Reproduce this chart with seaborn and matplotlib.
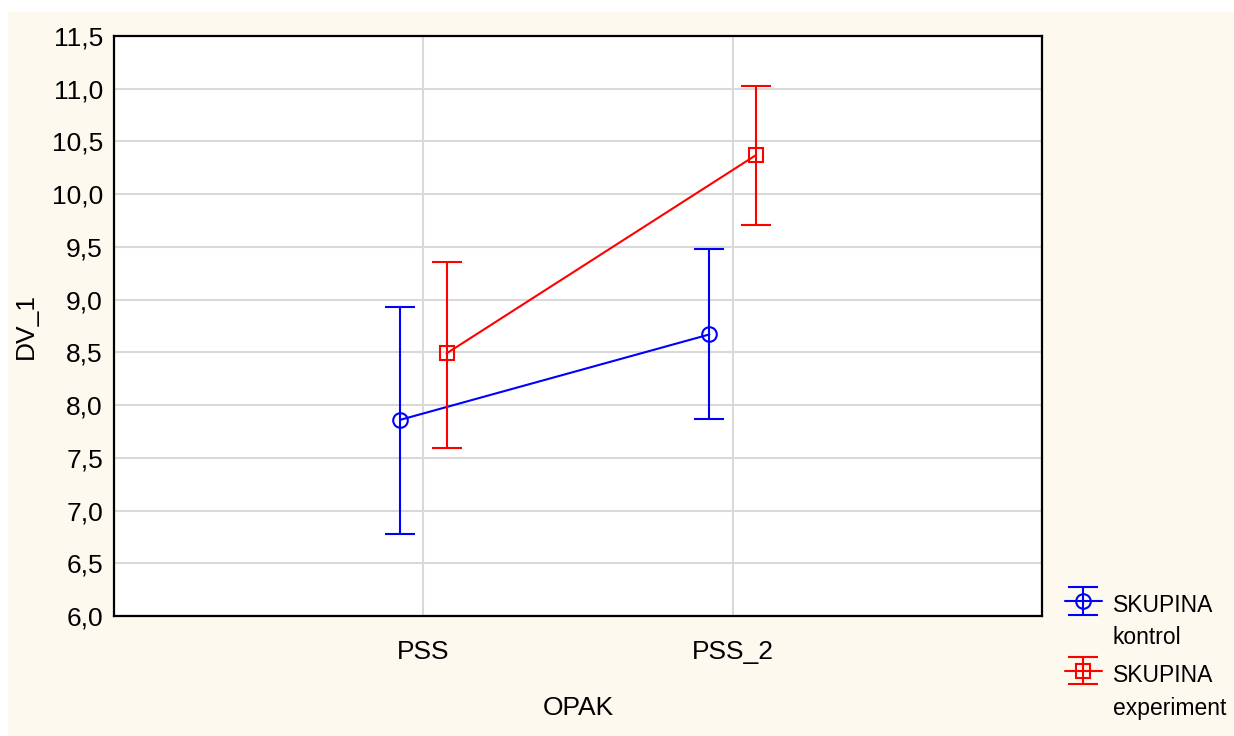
import pandas as pd
import matplotlib
matplotlib.use("Agg")
import matplotlib.pyplot as plt
import seaborn as sns
from matplotlib.container import ErrorbarContainer
from matplotlib.legend_handler import HandlerErrorbar
from matplotlib.patches import Rectangle

# values
OPAK = ["PSS", "PSS_2"]
GROUPS = ["kontrol", "experiment"]
kontrol_mean = [7.86, 8.67]
kontrol_low = [6.78, 7.87]
kontrol_high = [8.93, 9.48]
experiment_mean = [8.49, 10.37]
experiment_low = [7.59, 9.71]
experiment_high = [9.36, 11.03]

COLORS = ["#0000ff", "#ff0000"]
MARKERS = ["o", "s"]

df = pd.DataFrame({
    "OPAK": OPAK * 2,
    "SKUPINA": [GROUPS[0]] * 2 + [GROUPS[1]] * 2,
    "DV_1": kontrol_mean + experiment_mean,
    "low": kontrol_low + experiment_low,
    "high": kontrol_high + experiment_high,
})

sns.set_style("white")
plt.rcParams["font.family"] = ["Liberation Sans", "DejaVu Sans"]
plt.rcParams["text.color"] = "black"
plt.rcParams["axes.labelcolor"] = "black"

fig = plt.figure(figsize=(12.34, 7.36), dpi=100, facecolor="white")
# cream background panel
fig.patches.append(Rectangle((8 / 1234, 0), 1, 1 - 12 / 736, transform=fig.transFigure,
                             facecolor="#fdf9ef", edgecolor="none", zorder=-5))
ax = fig.add_axes([114 / 1234, 1 - 616 / 736, 928 / 1234, 580 / 736])
ax.set_zorder(2)
ax.set_facecolor("white")

DODGE = 0.15
sns.pointplot(data=df, x="OPAK", y="DV_1", hue="SKUPINA", order=OPAK, hue_order=GROUPS,
              palette=COLORS, markers=MARKERS, dodge=DODGE, errorbar=None, ax=ax,
              linewidth=1.5, markersize=10.5, markeredgewidth=1.5,
              markerfacecolor="none", legend=False)

handles = []
for i, g in enumerate(GROUPS):
    sub = df[df["SKUPINA"] == g]
    off = -DODGE / 2 + i * DODGE
    xs = [OPAK.index(o) + off for o in sub["OPAK"]]
    yerr = [sub["DV_1"] - sub["low"], sub["high"] - sub["DV_1"]]
    eb = ax.errorbar(xs, sub["DV_1"], yerr=yerr, fmt="none", ecolor=COLORS[i],
                     elinewidth=1.5, capsize=11, capthick=1.5, zorder=3)
    line = ax.lines[i]
    handles.append(ErrorbarContainer((line, eb.lines[1], eb.lines[2]), has_yerr=True))

ax.set_xlim(-1, 2)
ax.set_ylim(6.0, 11.5)
ax.set_yticks([6.0 + 0.5 * k for k in range(12)])
ax.set_yticklabels([f"{6.0 + 0.5 * k:.1f}".replace(".", ",") for k in range(12)])
ax.grid(True, color="#d9d9d9", linewidth=1.5)
ax.set_axisbelow(True)
for s in ax.spines.values():
    s.set_color("black")
    s.set_linewidth(1.6)
ax.tick_params(axis="both", direction="in", length=3, width=1.5, labelsize=19,
               colors="black", pad=8)
ax.tick_params(axis="x", pad=17)
ax.set_xlabel("OPAK", fontsize=19, labelpad=23)
ax.set_ylabel("DV_1", fontsize=19, labelpad=10)

fs = 16.5
fig.legend(handles, ["SKUPINA", "SKUPINA"], loc="upper left",
           bbox_to_anchor=(1065 / 1234, 1 - 590 / 736),
           frameon=False, fontsize=fs, handlelength=1.6, handleheight=1.6,
           handletextpad=0.5, labelspacing=1.75, borderaxespad=0, borderpad=0,
           handler_map={ErrorbarContainer: HandlerErrorbar(xerr_size=0.6)})
for name, y in zip(GROUPS, [638, 708]):
    fig.text(1113 / 1234, 1 - y / 736, name, fontsize=fs, ha="left", va="center")

fig.savefig("out.png", dpi=100, facecolor=fig.get_facecolor())
